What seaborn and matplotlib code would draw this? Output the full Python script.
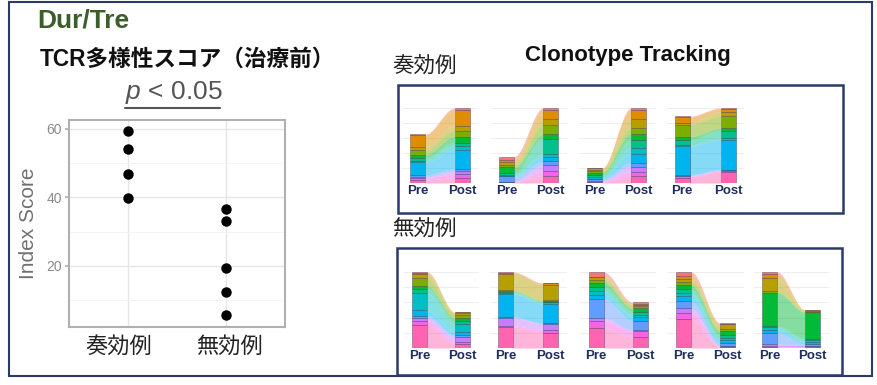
import numpy as np
import pandas as pd
import matplotlib
matplotlib.use("Agg")
import matplotlib.pyplot as plt
import matplotlib.transforms as mtransforms
import seaborn as sns
from matplotlib.patches import Rectangle
from matplotlib.lines import Line2D

# ---------------- data ----------------
GROUPS = ["奏効例", "無効例"]
RESP_SCORES = [59.3, 54.0, 46.9, 39.8]
NONRESP_SCORES = [36.5, 33.0, 19.3, 12.3, 5.6]
Y_TICKS = [20, 40, 60]
TIMEPOINTS = ["Pre", "Post"]

# clone frequencies per patient, stacked bottom -> top (row max = 100)
RESP_PRE = [
    [4, 3, 1, 3, 17, 2, 3, 5, 6, 4, 16, 1],
    [1, 0.5, 0.5, 7, 1, 1, 2, 8, 3, 4, 3, 4],
    [1, 1, 1, 2, 1, 2, 3, 3, 2, 2, 1.5, 0.5],
    [7, 2, 1, 1, 38, 2, 6, 5, 16, 2, 8, 1],
]
RESP_POST = [
    [7, 5, 4, 3, 25, 6, 4, 8, 8, 6, 22, 2],
    [10, 6, 8, 5, 6, 4, 20, 6, 12, 8, 12, 3],
    [9, 6, 7, 5, 12, 8, 10, 9, 8, 12, 12, 2],
    [15, 1, 1, 1, 40, 2, 10, 3, 16, 6, 4, 1],
]
NONRESP_PRE = [
    [30, 6, 3, 3, 8, 22, 6, 4, 10, 6, 1, 1],
    [28, 1, 11, 1, 30, 2, 1, 1, 1, 22, 1, 1],
    [26, 10, 3, 26, 5, 5, 5, 6, 4, 3, 1, 6],
    [38, 8, 6, 10, 6, 4, 5, 6, 4, 4, 4, 5],
    [1, 1, 3, 15, 4, 3, 2, 44, 2, 17, 5, 3],
]
NONRESP_POST = [
    [5, 3, 7, 2, 4, 10, 4, 4, 5, 2, 1, 0],
    [20, 4, 8, 1, 25, 2, 1, 1, 1, 20, 2, 0.5],
    [14, 8, 2, 12, 5, 3, 4, 4, 3, 2, 1, 2],
    [1, 1, 1, 3, 4, 3, 4, 5, 3, 6, 1, 1],
    [1, 1, 1, 2, 3, 3, 1, 35, 1, 1, 1, 0],
]

# ---------------- style ----------------
PALETTE = ["#FF64B0", "#F564E3", "#C77CFF", "#619CFF", "#00B4F0", "#00BFC4",
           "#00C08B", "#00BA38", "#7CAE00", "#B79F00", "#DE8C00", "#F8766D"]
NAVY = "#2b3a6b"

sns.set_theme(style="white")
plt.rcParams["font.family"] = ["Liberation Sans", "Noto Sans CJK JP", "DejaVu Sans"]
plt.rcParams["mathtext.fontset"] = "custom"
plt.rcParams["mathtext.it"] = "Liberation Sans:italic"
plt.rcParams["mathtext.rm"] = "Liberation Sans"

W, H = 877, 385
fig = plt.figure(figsize=(W / 100, H / 100), dpi=100)
fig.patch.set_facecolor("white")


def add_ax(x0, y0, x1, y1):
    return fig.add_axes([x0 / W, 1 - y1 / H, (x1 - x0) / W, (y1 - y0) / H])


def frame(x0, y0, x1, y1, lw=1.8, color=NAVY):
    fig.add_artist(Rectangle((x0 / W, 1 - y1 / H), (x1 - x0) / W, (y1 - y0) / H,
                             transform=fig.transFigure, fill=False,
                             edgecolor=color, linewidth=lw))


# outer frame
frame(9, 2, 872, 376, lw=1.5)

# ---------------- left: scatter ----------------
fig.text(37 / W, 1 - 21 / H, "Dur/Tre", fontsize=19, fontweight="bold",
         color="#3b5e2b", ha="left", va="center")
fig.text(40 / W, 1 - 59 / H, "TCR多様性スコア（治療前）", fontsize=16.3,
         fontweight="bold", color="#111111", ha="left", va="center")
fig.text(174 / W, 1 - 93 / H, r"$p$ < 0.05", fontsize=19, color="#555555",
         ha="center", va="center")
fig.add_artist(Line2D([125 / W, 220 / W], [1 - 108 / H, 1 - 108 / H],
                      transform=fig.transFigure, color="#555555", lw=1.5))

df = pd.DataFrame({
    "group": [GROUPS[0]] * len(RESP_SCORES) + [GROUPS[1]] * len(NONRESP_SCORES),
    "score": RESP_SCORES + NONRESP_SCORES,
})
ax = add_ax(69, 120, 285, 327)
sns.stripplot(data=df, x="group", y="score", order=GROUPS, jitter=False,
              color="black", size=7.5, ax=ax, zorder=3)
ax.set_xlim(-0.6, 1.6)
ax.set_ylim(2.2, 62.6)
ax.set_yticks(Y_TICKS)
ax.set_yticks([10, 30, 50], minor=True)
ax.grid(True, which="major", color="#e6e6e6", lw=1.0)
ax.grid(True, which="minor", axis="y", color="#f3f3f3", lw=0.7)
ax.set_axisbelow(True)
for sp in ax.spines.values():
    sp.set_visible(True)
    sp.set_color("#b0b0b0")
    sp.set_linewidth(1.5)
ax.set_xlabel("")
ax.set_ylabel("Index Score", fontsize=15, color="#707070", labelpad=6)
ax.tick_params(axis="y", which="major", length=3, color="#b0b0b0", pad=2,
               labelsize=10, labelcolor="#8a8a8a", left=True)
ax.tick_params(axis="y", which="minor", length=0)
ax.tick_params(axis="x", length=0, pad=7, labelsize=16, labelcolor="#222222")
for lbl, dx in zip(ax.get_xticklabels(), [-9, 3]):
    lbl.set_transform(lbl.get_transform() +
                      mtransforms.ScaledTranslation(dx / 100, 0, fig.dpi_scale_trans))

# ---------------- right: clonotype tracking ----------------
fig.text(628 / W, 1 - 56 / H, "Clonotype Tracking", fontsize=16,
         fontweight="bold", color="#111111", ha="center", va="center")
fig.text(392 / W, 1 - 66 / H, GROUPS[0], fontsize=15.5, color="#222222",
         ha="left", va="center")
fig.text(392 / W, 1 - 229 / H, GROUPS[1], fontsize=15.5, color="#222222",
         ha="left", va="center")
frame(398, 85, 843, 213)
frame(397, 248, 842, 375)


def draw_alluvial(pc, qc, yb, yt, pre, post):
    gap = qc - pc
    m = 16
    top_pad = 6
    a = add_ax(pc - m, yt - top_pad, qc + m, yb)
    a.set_xlim(-m / gap, 1 + m / gap)
    a.set_ylim(0, 100 * (yb - yt + top_pad) / (yb - yt))
    bw = 15 / gap
    pre_c = np.concatenate([[0], np.cumsum(pre)])
    post_c = np.concatenate([[0], np.cumsum(post)])
    t = np.linspace(0, 1, 80)
    s = t * t * (3 - 2 * t)
    xs = bw / 2 + (1 - bw) * t
    for i, col in enumerate(PALETTE):
        lo = pre_c[i] + (post_c[i] - pre_c[i]) * s
        hi = pre_c[i + 1] + (post_c[i + 1] - pre_c[i + 1]) * s
        a.fill_between(xs, lo, hi, color=col, alpha=0.48, lw=0, zorder=2)
    edge = (0.12, 0.12, 0.25, 0.38)
    a.bar(np.zeros(len(pre)), pre, bottom=pre_c[:-1], width=bw, color=PALETTE,
          edgecolor=edge, linewidth=0.6, zorder=3)
    a.bar(np.ones(len(post)), post, bottom=post_c[:-1], width=bw, color=PALETTE,
          edgecolor=edge, linewidth=0.6, zorder=3)
    a.set_facecolor("none")
    for sp in a.spines.values():
        sp.set_visible(False)
    a.set_yticks(np.arange(0, 101, 20))
    a.set_yticklabels([])
    a.grid(True, axis="y", color="#eeeeee", lw=0.8)
    a.grid(False, axis="x")
    a.set_axisbelow(True)
    a.set_xticks([0, 1])
    a.set_xticklabels(TIMEPOINTS)
    a.tick_params(axis="x", length=0, pad=1.5, labelsize=9.5, labelcolor="#1f2d5c")
    a.tick_params(axis="y", length=0)
    for lbl in a.get_xticklabels():
        lbl.set_fontweight("bold")


TOP_PRE_X = [417.5, 506.5, 594.5, 682]
TOP_POST_X = [462, 550.5, 638.5, 728]
BOT_PRE_X = [419.5, 505.5, 596, 683.5, 769.5]
BOT_POST_X = [462.5, 550.5, 640, 727.5, 812.5]

for pc, qc, pre, post in zip(TOP_PRE_X, TOP_POST_X, RESP_PRE, RESP_POST):
    draw_alluvial(pc, qc, 183, 108, pre, post)
for pc, qc, pre, post in zip(BOT_PRE_X, BOT_POST_X, NONRESP_PRE, NONRESP_POST):
    draw_alluvial(pc, qc, 348, 272, pre, post)

fig.savefig("out.png", dpi=100, facecolor="white")
